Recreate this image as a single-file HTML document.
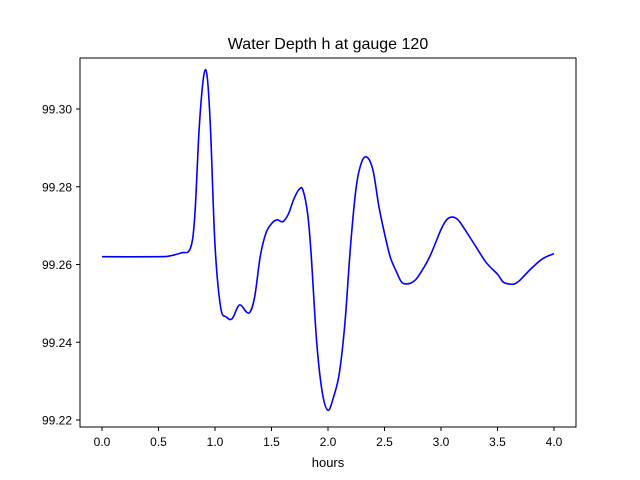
<!DOCTYPE html>
<html><head><meta charset="utf-8"><style>
body{margin:0;background:#fff}
svg{display:block;font-family:"Liberation Sans","DejaVu Sans",sans-serif}
</style></head><body>
<svg id="chart" width="640" height="480">
<rect width="640" height="480" fill="#fff"/>
<text x="328" y="49" font-size="16" text-anchor="middle">Water Depth h at gauge 120</text>
<g id="ticks"></g>
<path id="line" fill="none" stroke="#0000ff" stroke-width="1.6"/>
<rect x="80" y="58" width="496" height="369" fill="none" stroke="#000" stroke-width="1"/>
<text x="328" y="467" font-size="13" text-anchor="middle">hours</text>
</svg>
<script>
const hours=[0,0.5,0.6,0.7,0.78,0.82,0.86,0.9,0.93,0.96,1.0,1.05,1.1,1.15,1.2,1.23,1.3,1.35,1.4,1.45,1.5,1.55,1.6,1.65,1.7,1.75,1.78,1.82,1.85,1.9,1.95,2.0,2.05,2.1,2.15,2.2,2.25,2.3,2.35,2.4,2.45,2.5,2.55,2.6,2.65,2.7,2.75,2.8,2.9,3.0,3.05,3.1,3.15,3.2,3.3,3.4,3.5,3.55,3.6,3.65,3.7,3.8,3.9,4.0];
const depth=[99.262,99.262,99.2622,99.263,99.264,99.272,99.295,99.3085,99.3085,99.295,99.265,99.249,99.2465,99.246,99.249,99.2495,99.2475,99.2515,99.262,99.268,99.2705,99.2715,99.271,99.273,99.277,99.2795,99.279,99.273,99.263,99.24,99.227,99.2225,99.226,99.232,99.245,99.265,99.28,99.2865,99.2875,99.284,99.275,99.268,99.262,99.2585,99.2555,99.255,99.2555,99.257,99.262,99.269,99.2715,99.2722,99.2715,99.2695,99.265,99.2605,99.2575,99.2555,99.255,99.255,99.256,99.259,99.2615,99.2628];
const xTicks=[0,0.5,1,1.5,2,2.5,3,3.5,4];
const xTickLabels=["0.0","0.5","1.0","1.5","2.0","2.5","3.0","3.5","4.0"];
const yTicks=[99.22,99.24,99.26,99.28,99.30];
const yTickLabels=["99.22","99.24","99.26","99.28","99.30"];
const X=v=>102+v*113;
const Y=v=>420-(v-99.22)*3887.5;
const NS="http://www.w3.org/2000/svg";
const g=document.getElementById('ticks');
xTicks.forEach((t,i)=>{
 const l=document.createElementNS(NS,'line');
 
 
 l.setAttribute('x1',X(t));l.setAttribute('x2',X(t));l.setAttribute('y1',427);l.setAttribute('y2',431);l.setAttribute('stroke','#000');
 g.appendChild(l);
 const tx=document.createElementNS(NS,'text');
 
 
 tx.setAttribute('x',X(t));tx.setAttribute('y',446);tx.setAttribute('font-size','12');tx.setAttribute('text-anchor','middle');
 tx.textContent=xTickLabels[i];g.appendChild(tx);
});
yTicks.forEach((t,i)=>{
 const l=document.createElementNS(NS,'line');
 
 
 l.setAttribute('x1',76);l.setAttribute('x2',80);l.setAttribute('y1',Y(t));l.setAttribute('y2',Y(t));l.setAttribute('stroke','#000');
 g.appendChild(l);
 const tx=document.createElementNS(NS,'text');
 
 
 tx.setAttribute('x',72);tx.setAttribute('y',Y(t)+4.5);tx.setAttribute('font-size','12');tx.setAttribute('text-anchor','end');
 tx.textContent=yTickLabels[i];g.appendChild(tx);
});
const pts=hours.map((h,i)=>[X(h),Y(depth[i])]);
let d='M'+pts[0][0]+','+pts[0][1];
for(let i=0;i<pts.length-1;i++){
 const p0=pts[Math.max(0,i-1)],p1=pts[i],p2=pts[i+1],p3=pts[Math.min(pts.length-1,i+2)];
 const c1=[p1[0]+(p2[0]-p0[0])/6,p1[1]+(p2[1]-p0[1])/6];
 const c2=[p2[0]-(p3[0]-p1[0])/6,p2[1]-(p3[1]-p1[1])/6];
 d+=' C'+c1.join(',')+' '+c2.join(',')+' '+p2.join(',');
}
document.getElementById('line').setAttribute('d',d);
</script>
</body></html>
